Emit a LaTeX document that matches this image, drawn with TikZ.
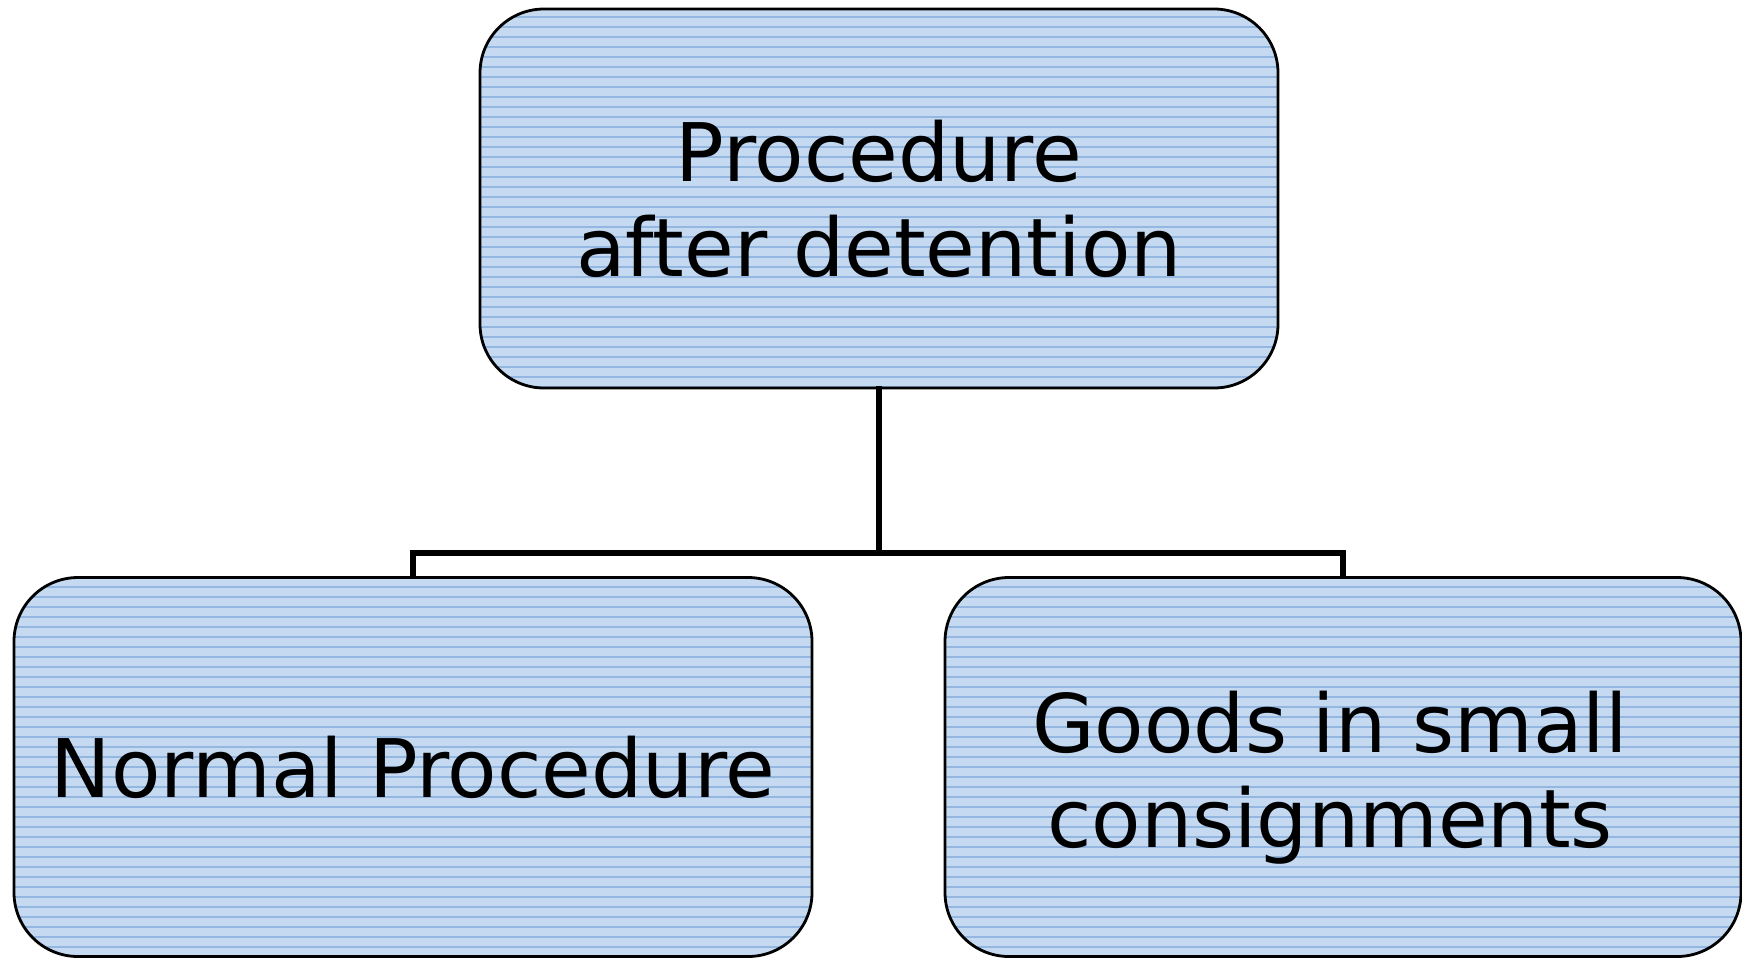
\documentclass[tikz,border=0pt]{standalone}
\usepackage{fontspec}
\setmainfont{DejaVu Sans}
\usetikzlibrary{patterns.meta}
\definecolor{boxfill}{HTML}{C5D9F0}
\definecolor{boxrule}{HTML}{94B7E2}
\tikzset{
  boxfont/.style={font=\fontsize{23}{27}\selectfont},
  procbox/.style={draw=black,line width=0.8pt,rounded corners=0.64cm,
    preaction={fill=boxfill},pattern={Lines[distance=1mm,line width=0.35pt]},pattern color=boxrule,
    minimum width=7.98cm,minimum height=3.79cm,align=center,inner sep=0pt,boxfont},
  link/.style={line width=1.5pt,line cap=rect}
}
\begin{document}
\begin{tikzpicture}[line join=miter]
  \useasboundingbox (0,0) rectangle (17.42,9.57);
  \node[procbox] (detention) at (8.79,7.585) {Procedure\\after detention};
  \node[procbox] (normal) at (4.13,1.90) {Normal Procedure};
  \node[procbox,minimum width=7.96cm,
    label={[name=smalltext,boxfont,align=center,xshift=-0.13cm,yshift=-0.11cm]center:Goods in small\\consignments}]
    (small) at (13.43,1.90) {};
  \coordinate (junc) at (8.79,4.04);
  \draw[link] (detention.south) -- (junc);
  \draw[link] (normal.north) |- (junc) -| (small.north);
\end{tikzpicture}
\end{document}
